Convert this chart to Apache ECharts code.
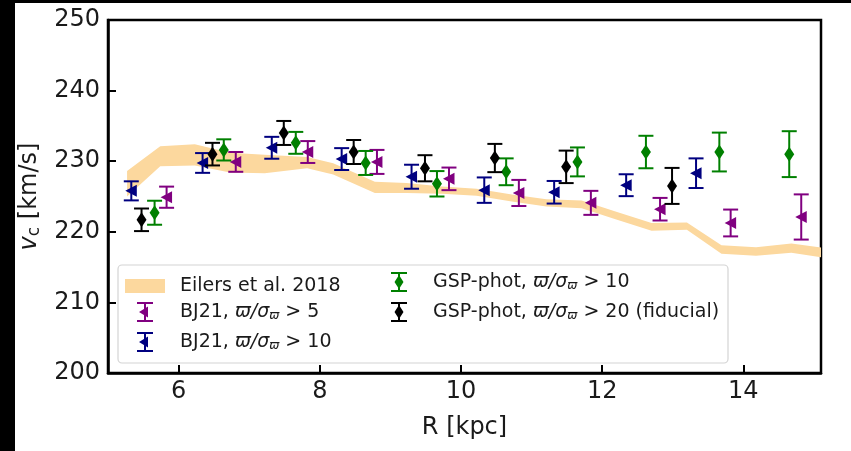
<!DOCTYPE html>
<html>
<head>
<meta charset="utf-8">
<script src="https://cdn.jsdelivr.net/npm/echarts@6/dist/echarts.min.js"></script>
<style>
html, body { margin: 0; padding: 0; background: #000; }
#chart { position: absolute; left: 15px; top: 3px; width: 836px; height: 448px; background: #fff; }
</style>
</head>
<body>
<div id="chart"></div>
<script>
// tick labels
const xTicks = [6, 8, 10, 12, 14];

// Eilers et al. 2018 band (centre and half width)
const eilersR = [5.27, 5.74, 6.23, 6.73, 7.22, 7.82, 8.19, 8.78, 9.23, 9.73, 10.22, 10.72, 11.21, 11.71, 12.20, 12.70, 13.20, 13.69, 14.18, 14.68, 15.17];
const eilersV = [226.8, 230.7, 230.9, 229.8, 229.6, 229.8, 228.9, 226.3, 226.2, 225.9, 225.6, 224.8, 224.1, 223.9, 222.3, 220.7, 220.8, 217.5, 217.2, 217.7, 217.0];
const eilersErr = [1.8, 1.4, 1.5, 1.4, 1.3, 0.8, 0.8, 0.8, 0.7, 0.5, 0.5, 0.5, 0.5, 0.55, 0.55, 0.55, 0.5, 0.6, 0.6, 0.65, 0.7];

// BJ21, parallax/error > 5
const bj5R = [5.83, 6.81, 7.83, 8.81, 9.83, 10.82, 11.84, 12.82, 13.82, 14.82];
const bj5V = [224.9, 229.9, 231.3, 229.9, 227.5, 225.5, 224.1, 223.2, 221.25, 222.1];
const bj5Err = [1.5, 1.4, 1.55, 1.7, 1.6, 1.85, 1.7, 1.6, 1.9, 3.2];

// BJ21, parallax/error > 10
const bj10R = [5.33, 6.34, 7.32, 8.31, 9.30, 10.33, 11.32, 12.34, 13.33];
const bj10V = [225.8, 229.75, 231.9, 230.3, 227.8, 225.9, 225.6, 226.6, 228.3];
const bj10Err = [1.35, 1.4, 1.55, 1.55, 1.7, 1.8, 1.6, 1.55, 2.1];

// GSP-phot, parallax/error > 10
const gsp10R = [5.66, 6.64, 7.66, 8.65, 9.66, 10.64, 11.65, 12.62, 13.66, 14.65];
const gsp10V = [222.7, 231.6, 232.6, 229.75, 226.8, 228.5, 229.9, 231.3, 231.3, 231.0];
const gsp10Err = [1.7, 1.5, 1.55, 1.7, 1.8, 1.9, 2.05, 2.3, 2.75, 3.25];

// GSP-phot, parallax/error > 20 (fiducial)
const gsp20R = [5.475, 6.48, 7.49, 8.48, 9.49, 10.48, 11.49, 12.99];
const gsp20V = [221.7, 231.0, 234.0, 231.3, 229.0, 230.45, 229.2, 226.5];
const gsp20Err = [1.6, 1.6, 1.7, 1.7, 1.85, 2.0, 2.3, 2.55];

const FONT = 'DejaVu Sans';
const TXT = '#1a1a1a';

function zip3(r, v, e) {
  return r.map((x, i) => [x, v[i], e[i]]);
}

// error bar + marker
function errRender(shape) {
  return function (params, api) {
    const c = api.coord([api.value(0), api.value(1)]);
    const hi = api.coord([api.value(0), api.value(1) + api.value(2)]);
    const lo = api.coord([api.value(0), api.value(1) - api.value(2)]);
    const color = api.visual('color');
    const cap = 7.5;
    const ls = { stroke: color, lineWidth: 2 };
    let pts;
    if (shape === 'tri') {
      pts = [[c[0] - 6, c[1]], [c[0] + 5.5, c[1] - 6], [c[0] + 5.5, c[1] + 6]];
    } else {
      pts = [[c[0], c[1] - 7.5], [c[0] + 5, c[1]], [c[0], c[1] + 7.5], [c[0] - 5, c[1]]];
    }
    return {
      type: 'group',
      children: [
        { type: 'line', shape: { x1: c[0], y1: hi[1], x2: c[0], y2: lo[1] }, style: ls },
        { type: 'line', shape: { x1: c[0] - cap, y1: hi[1], x2: c[0] + cap, y2: hi[1] }, style: ls },
        { type: 'line', shape: { x1: c[0] - cap, y1: lo[1], x2: c[0] + cap, y2: lo[1] }, style: ls },
        { type: 'polygon', shape: { points: pts }, style: { fill: color } }
      ]
    };
  };
}

// band drawn as one polygon
function bandRender(params, api) {
  if (params.dataIndex !== 0) return;
  const upper = eilersR.map((r, i) => api.coord([r, eilersV[i] + eilersErr[i]]));
  const lower = eilersR.map((r, i) => api.coord([r, eilersV[i] - eilersErr[i]])).reverse();
  const cs = params.coordSys;
  return {
    type: 'polygon',
    shape: { points: upper.concat(lower) },
    style: { fill: api.visual('color') },
    clipPath: { type: 'rect', shape: { x: cs.x, y: cs.y, width: cs.width, height: cs.height } }
  };
}

const triIcon = 'path://M0,0H16V2H0Z M0,18H16V20H0Z M7,2H9V18H7Z M2,10L11,4.5L11,15.5Z';
const diaIcon = 'path://M0,0H16V2H0Z M0,18H16V20H0Z M7,2H9V18H7Z M8,3L12.5,10L8,17L3.5,10Z';

const legendRich = {
  it: { fontFamily: FONT, fontStyle: 'italic', fontSize: 19, color: TXT, lineHeight: 20 },
  sub: { fontFamily: FONT, fontStyle: 'italic', fontSize: 12, color: TXT, lineHeight: 10, verticalAlign: 'bottom' }
};
const legendText = {
  'Eilers et al. 2018': 'Eilers et al. 2018',
  'BJ21 5': 'BJ21, {it|ϖ/σ}{sub|ϖ} > 5',
  'BJ21 10': 'BJ21, {it|ϖ/σ}{sub|ϖ} > 10',
  'GSP 10': 'GSP-phot, {it|ϖ/σ}{sub|ϖ} > 10',
  'GSP 20': 'GSP-phot, {it|ϖ/σ}{sub|ϖ} > 20 (fiducial)'
};
function legendBase(pad) {
  return {
    orient: 'vertical',
    padding: 0,
    selectedMode: false,
    itemGap: 10,
    itemStyle: { borderWidth: 0 },
    formatter: name => legendText[name],
    textStyle: { fontFamily: FONT, fontSize: 19, color: TXT, lineHeight: 20, padding: [0, 0, 0, pad], rich: legendRich }
  };
}

let chart = echarts.init(document.getElementById('chart'));
let option = {
  animation: false,
  grid: {
    left: 93, top: 17, width: 713, height: 353,
    outerBoundsMode: 'none',
    show: true, borderColor: '#000', borderWidth: 2.5, backgroundColor: 'transparent'
  },
  xAxis: {
    type: 'value',
    min: 5, max: 15.1,
    name: 'R [kpc]',
    nameLocation: 'middle',
    nameGap: 43,
    nameTextStyle: { fontFamily: FONT, fontSize: 24, color: TXT },
    axisLine: { show: true, lineStyle: { color: '#000', width: 2.5 } },
    axisTick: { show: true, inside: true, length: 8, customValues: xTicks, lineStyle: { color: '#000', width: 2 } },
    axisLabel: { customValues: xTicks, margin: 7, fontFamily: FONT, fontSize: 24, color: TXT },
    splitLine: { show: false }
  },
  yAxis: {
    type: 'value',
    min: 200, max: 250, interval: 10,
    name: '{it|v}{sub|c} [km/s]',
    nameLocation: 'middle',
    nameGap: 60,
    nameRotate: 90,
    nameTextStyle: {
      fontFamily: FONT, fontSize: 24, color: TXT,
      rich: {
        it: { fontFamily: FONT, fontStyle: 'italic', fontSize: 24, color: TXT, lineHeight: 28 },
        sub: { fontFamily: FONT, fontSize: 17, color: TXT, lineHeight: 16, verticalAlign: 'bottom' }
      }
    },
    axisLine: { show: true, lineStyle: { color: '#000', width: 2.5 } },
    axisTick: { show: true, inside: true, length: 8, lineStyle: { color: '#000', width: 2 } },
    axisLabel: { margin: 8, fontFamily: FONT, fontSize: 24, color: TXT },
    splitLine: { show: false }
  },
  graphic: [
    {
      type: 'rect', z: 3,
      shape: { x: 103, y: 262, width: 610, height: 98, r: 4 },
      style: { fill: 'rgba(255,255,255,0.85)', stroke: '#d4d4d4', lineWidth: 1.2 }
    }
  ],
  legend: [
    Object.assign(legendBase(10), {
      left: 110, top: 273, itemWidth: 40, itemHeight: 14,
      data: [{ name: 'Eilers et al. 2018', icon: 'rect', itemStyle: { color: '#fcd89e' } }]
    }),
    Object.assign(legendBase(22), {
      left: 122, top: 299, itemWidth: 16, itemHeight: 20,
      data: [{ name: 'BJ21 5', icon: triIcon }, { name: 'BJ21 10', icon: triIcon }]
    }),
    Object.assign(legendBase(21), {
      left: 376, top: 269, itemWidth: 16, itemHeight: 20,
      data: [{ name: 'GSP 10', icon: diaIcon }, { name: 'GSP 20', icon: diaIcon }]
    })
  ],
  series: [
    {
      name: 'Eilers et al. 2018',
      type: 'custom',
      renderItem: bandRender,
      itemStyle: { color: '#fcd89e' },
      encode: { x: 0, y: 1 },
      data: eilersR.map((r, i) => [r, eilersV[i]]),
      z: 1
    },
    {
      name: 'BJ21 5',
      type: 'custom',
      renderItem: errRender('tri'),
      itemStyle: { color: '#800080' },
      encode: { x: 0, y: 1 },
      data: zip3(bj5R, bj5V, bj5Err)
    },
    {
      name: 'BJ21 10',
      type: 'custom',
      renderItem: errRender('tri'),
      itemStyle: { color: '#000080' },
      encode: { x: 0, y: 1 },
      data: zip3(bj10R, bj10V, bj10Err)
    },
    {
      name: 'GSP 10',
      type: 'custom',
      renderItem: errRender('dia'),
      itemStyle: { color: '#008000' },
      encode: { x: 0, y: 1 },
      data: zip3(gsp10R, gsp10V, gsp10Err)
    },
    {
      name: 'GSP 20',
      type: 'custom',
      renderItem: errRender('dia'),
      itemStyle: { color: '#000000' },
      encode: { x: 0, y: 1 },
      data: zip3(gsp20R, gsp20V, gsp20Err)
    }
  ]
};
chart.setOption(option, true);
</script>
</body>
</html>
